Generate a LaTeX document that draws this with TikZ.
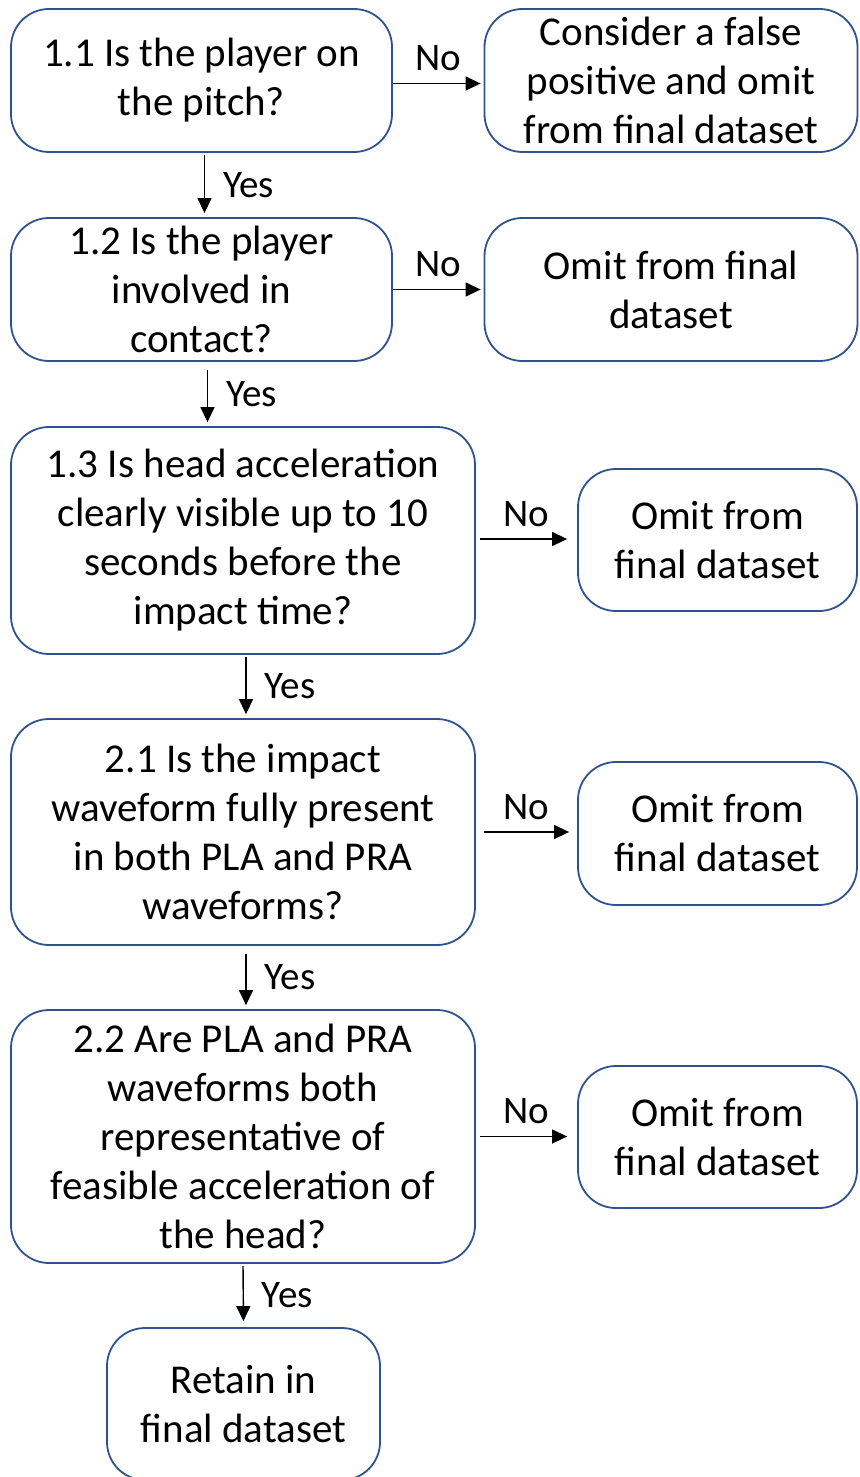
\documentclass[tikz,border=0pt]{standalone}
\usepackage{fontspec}
\setmainfont{Carlito}
\usepackage{xcolor}
\usetikzlibrary{arrows.meta}
\definecolor{boxblue}{HTML}{2F528F}

\begin{document}
\begin{tikzpicture}[x=1pt,y=-1pt,
    qbox/.style={draw=boxblue, line width=1.8pt, rounded corners=38pt, align=center,
                 inner sep=0pt, font=\fontsize{41}{49}\selectfont},
    arr/.style={line width=1.4pt, -{Triangle[length=15pt,width=14pt]}},
    lbl/.style={font=\fontsize{39}{44}\selectfont, inner sep=3pt}]
        \useasboundingbox (0,0) rectangle (859,1477);

        % questions on the left
        \node [qbox, minimum width=381pt, minimum height=143pt] (q11) at (201.5,80.5)
            {1.1 Is the player on\\the pitch?};
        \node [qbox, minimum width=381pt, minimum height=143pt] (q12) at (201.5,289.5)
            {1.2 Is the player\\involved in\\contact?};
        \node [qbox, minimum width=464pt, minimum height=227pt] (q13) at (243,540.5)
            {1.3 Is head acceleration\\clearly visible up to 10\\seconds before the\\impact time?};
        \node [qbox, minimum width=464pt, minimum height=226pt] (q21) at (243,832)
            {2.1 Is the impact\\waveform fully present\\in both PLA and PRA\\waveforms?};
        \node [qbox, minimum width=464pt, minimum height=253pt] (q22) at (243,1136.5)
            {2.2 Are PLA and PRA\\waveforms both\\representative of\\feasible acceleration of\\the head?};
        \node [qbox, minimum width=273pt, minimum height=152pt] (keep) at (243.5,1404)
            {Retain in\\final dataset};

        % outcomes on the right
        \node [qbox, minimum width=373pt, minimum height=143pt] (o11) at (671,80.5)
            {Consider a false\\positive and omit\\from final dataset};
        \node [qbox, minimum width=373pt, minimum height=143pt] (o12) at (671,289.5)
            {Omit from final\\dataset};
        \node [qbox, minimum width=279pt, minimum height=142pt] (o13) at (717.5,540)
            {Omit from\\final dataset};
        \node [qbox, minimum width=279pt, minimum height=143pt] (o21) at (717.5,833.5)
            {Omit from\\final dataset};
        \node [qbox, minimum width=279pt, minimum height=142pt] (o22) at (717.5,1137)
            {Omit from\\final dataset};

        % yes
        \draw [arr, shorten <=2pt, shorten >=4pt] ([xshift=3pt]q11.south) -- ([xshift=3pt]q11.south |- q12.north)
            node[lbl, midway, right=15pt] {Yes};
        \draw [arr, shorten <=8pt, shorten >=4pt] ([xshift=6pt]q12.south) -- ([xshift=6pt]q12.south |- q13.north)
            node[lbl, midway, right=15pt] {Yes};
        \draw [arr, shorten <=2pt, shorten >=4pt] ([xshift=3pt]q13.south) -- ([xshift=3pt]q13.south |- q21.north)
            node[lbl, midway, right=15pt] {Yes};
        \draw [arr, shorten <=8pt, shorten >=4pt] ([xshift=3pt]q21.south) -- ([xshift=3pt]q21.south |- q22.north)
            node[lbl, midway, right=15pt] {Yes};
        \draw [arr, shorten <=2pt, shorten >=6pt] (q22.south) -- (keep.north)
            node[lbl, midway, right=15pt] {Yes};

        % no
        \draw [arr, shorten >=3pt] ([yshift=-3pt]q11.east) -- ([yshift=-3pt]q11.east -| o11.west)
            node[lbl, midway, above=9pt] {No};
        \draw [arr, shorten >=3pt] (q12.east) -- (o12.west)
            node[lbl, midway, above=9pt] {No};
        \draw [arr, shorten <=4pt, shorten >=10pt] ([yshift=1.5pt]q13.east) -- ([yshift=1.5pt]q13.east -| o13.west)
            node[lbl, midway, above=9pt] {No};
        \draw [arr, shorten <=8pt, shorten >=8pt] (q21.east) -- (q21.east -| o21.west)
            node[lbl, midway, above=9pt] {No};
        \draw [arr, shorten <=4pt, shorten >=10pt] (q22.east) -- (q22.east -| o22.west)
            node[lbl, midway, above=9pt] {No};
\end{tikzpicture}
\end{document}
